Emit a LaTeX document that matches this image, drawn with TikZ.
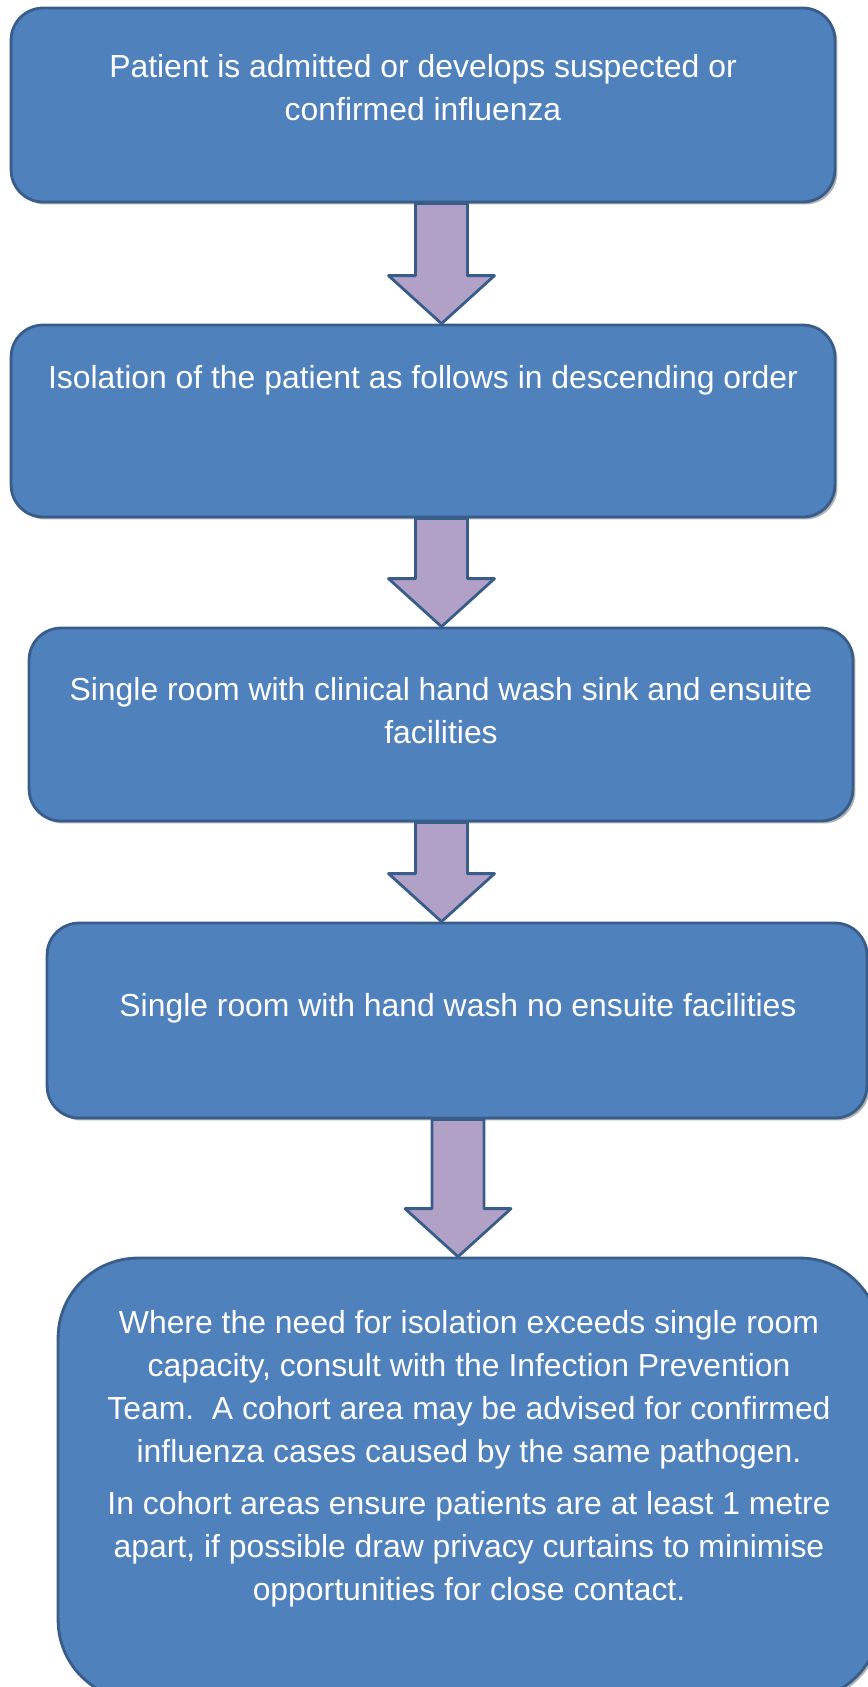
\documentclass[tikz,border=0pt]{standalone}
\usepackage{fontspec}
\setmainfont{Liberation Sans}
\usetikzlibrary{calc,shadows}
\definecolor{boxblue}{RGB}{79,129,189}
\definecolor{boxline}{RGB}{56,93,138}
\definecolor{arrowlilac}{RGB}{178,161,199}
\tikzset{
    flowbox/.style={draw=boxline, fill=boxblue, line width=1.6pt, rounded corners=0.64cm, inner sep=0pt,
        drop shadow={shadow xshift=0.05cm, shadow yshift=-0.05cm, opacity=0.3, fill=black}},
    flowtext/.style={text=white, align=center, anchor=north, inner sep=0pt, font=\fontsize{18.15}{24.45}\selectfont},
    flowarrow/.style={draw=boxline, fill=arrowlilac, line width=1.6pt, line join=round},
}
% block arrow: #1 x position, #2 upper box, #3 lower box
\newcommand{\blockarrow}[3]{%
    \coordinate (top) at (#2.south -| #1,0);
    \coordinate (tip) at (#3.north -| #1,0);
    \draw[flowarrow] ($(top)+(-26,0)$) -- ($(tip)+(-26,-48)$) -- ($(tip)+(-53,-48)$) -- (tip) -- ($(tip)+(53,-48)$) -- ($(tip)+(26,-48)$) -- ($(top)+(26,0)$) -- cycle;}

\begin{document}
\begin{tikzpicture}[x=0.02cm, y=-0.02cm]
    \useasboundingbox (0,0) rectangle (868,1687);
    \clip (0,0) rectangle (868,1687);
    % boxes
    \node[flowbox, minimum width=16.48cm, minimum height=3.88cm] (admit) at (423,105) {};
    \node[flowbox, minimum width=16.48cm, minimum height=3.84cm] (isolate) at (423,421) {};
    \node[flowbox, minimum width=16.48cm, minimum height=3.86cm] (ensuite) at (441,724.5) {};
    \node[flowbox, minimum width=16.40cm, minimum height=3.90cm] (noensuite) at (457,1020.5) {};
    \node[flowbox, minimum width=16.44cm, minimum height=8.84cm, rounded corners=1.6cm] (cohort) at (469,1479) {};
    % texts
    \node[flowtext] (admit text) at (423,54) {Patient is admitted or develops suspected or\\confirmed influenza};
    \node[flowtext] (isolate text) at (423,365) {Isolation of the patient as follows in descending order};
    \node[flowtext] (ensuite text) at (441,677) {Single room with clinical hand wash sink and ensuite\\facilities};
    \node[flowtext] (noensuite text) at (458,993) {Single room with hand wash no ensuite facilities};
    \node[flowtext] (cohort text) at (469,1310) {Where the need for isolation exceeds single room\\capacity, consult with the Infection Prevention\\Team.\ \ A cohort area may be advised for confirmed\\influenza cases caused by the same pathogen.\\[5pt]In cohort areas ensure patients are at least 1 metre\\apart, if possible draw privacy curtains to minimise\\opportunities for close contact.};
    % arrows
    \foreach \x/\a/\b in {441.5/admit/isolate, 441.5/isolate/ensuite, 441.5/ensuite/noensuite, 458/noensuite/cohort} \blockarrow{\x}{\a}{\b};
\end{tikzpicture}
\end{document}
